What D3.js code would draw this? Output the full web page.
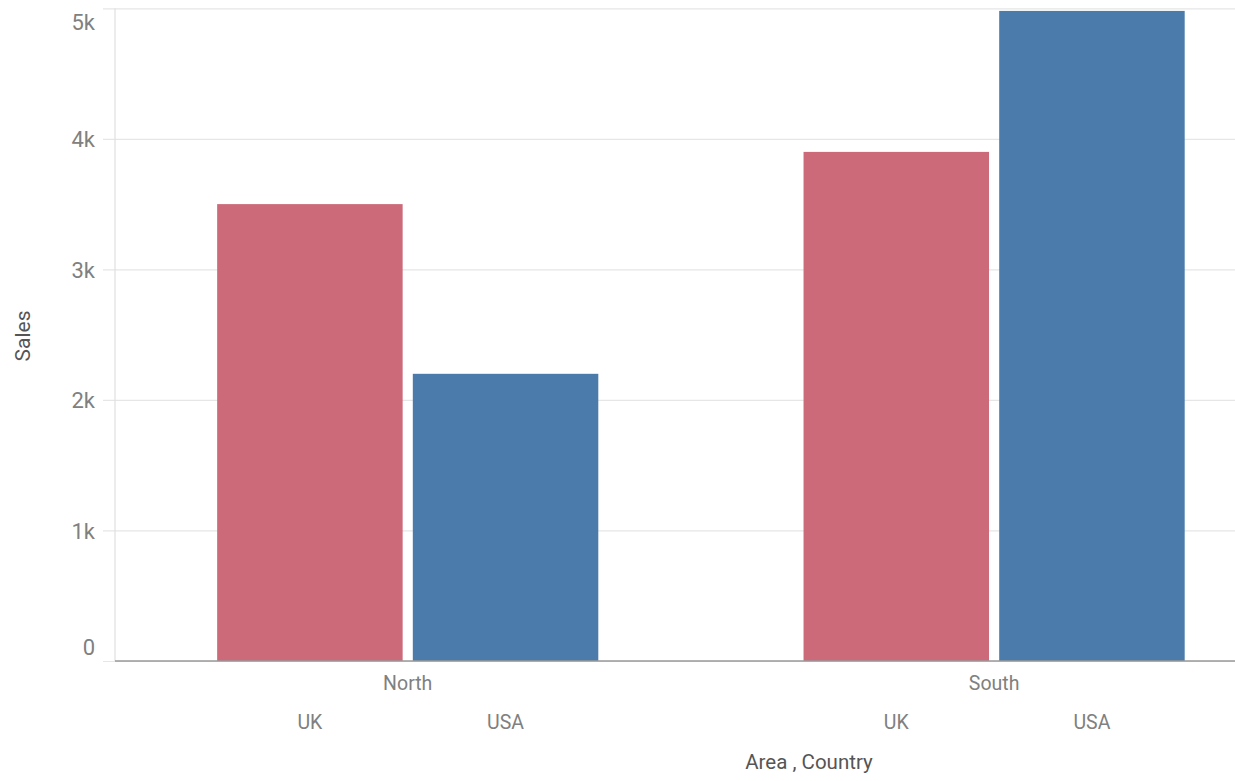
<!DOCTYPE html>
<html>
<head>
<meta charset="utf-8">
<script src="https://cdn.jsdelivr.net/npm/d3@7"></script>
<style>
  body { margin: 0; background: #fff; }
  svg { display: block; font-family: Roboto, "Noto Sans", sans-serif; }
</style>
</head>
<body>
<script>
// chart data
const areas = ['North', 'South'];
const countries = ['UK', 'USA'];
const ukSales = [3500, 3900];
const usaSales = [2200, 4980];
const yTicks = [0, 1000, 2000, 3000, 4000, 5000];
const yTickLabels = ['0', '1k', '2k', '3k', '4k', '5k'];
const countryColors = ['#cd6a7a', '#4a7bab'];

const w = 1235, h = 781;
const plotLeft = 115, plotRight = 1235, plotTop = 8.3, plotBottom = 661;

let svg = d3.select(document.body).append('svg')
  .attr('width', w)
  .attr('height', h);

let y = d3.scaleLinear().domain([0, 5000]).range([plotBottom, plotTop]);

let x0 = d3.scaleBand()
  .domain(areas)
  .range([plotLeft, plotRight])
  .paddingInner(0.35)
  .paddingOuter(0.13)
  .align(0.67);

let x1 = d3.scaleBand()
  .domain(countries)
  .range([0, x0.bandwidth()])
  .paddingInner(0.052)
  .paddingOuter(0);

let color = d3.scaleOrdinal().domain(countries).range(countryColors);

// gridlines + y tick labels
let yAxis = svg.append('g')
  .attr('transform', `translate(${plotLeft},0)`)
  .call(d3.axisLeft(y)
    .tickValues(yTicks)
    .tickFormat((d, i) => yTickLabels[i])
    .tickSizeInner(-(plotRight - plotLeft))
    .tickSizeOuter(0));
yAxis.select('.domain').remove();
yAxis.selectAll('.tick line')
  .attr('x1', -12)
  .attr('stroke', '#e6e6e6')
  .attr('stroke-width', 1.2);
yAxis.selectAll('.tick text')
  .attr('x', -20)
  .attr('dy', (d, i) => i === 0 ? '-0.3em' : (i === yTicks.length - 1 ? '0.95em' : '0.35em'))
  .attr('fill', '#808080')
  .style('font-size', '22px')
  .style('font-family', 'Roboto, sans-serif');

// y axis line
svg.append('line')
  .attr('x1', plotLeft).attr('x2', plotLeft)
  .attr('y1', plotTop).attr('y2', plotBottom)
  .attr('stroke', '#e0e0e0')
  .attr('stroke-width', 1.2);

// bars
let rows = areas.map((a, i) => ({ area: a, values: [ukSales[i], usaSales[i]] }));

let group = svg.selectAll('.area')
  .data(rows)
  .enter().append('g')
  .attr('class', 'area')
  .attr('transform', d => `translate(${x0(d.area)},0)`);

group.selectAll('rect')
  .data(d => countries.map((c, j) => ({ country: c, value: d.values[j] })))
  .enter().append('rect')
  .attr('x', d => x1(d.country))
  .attr('y', d => y(d.value))
  .attr('width', x1.bandwidth())
  .attr('height', d => y(0) - y(d.value))
  .attr('fill', d => color(d.country));

// x axis line
svg.append('line')
  .attr('x1', plotLeft).attr('x2', plotRight)
  .attr('y1', plotBottom).attr('y2', plotBottom)
  .attr('stroke', '#999')
  .attr('stroke-width', 1.5);

// area labels
svg.selectAll('.area-label')
  .data(areas)
  .enter().append('text')
  .attr('class', 'area-label')
  .attr('x', d => x0(d) + x0.bandwidth() / 2)
  .attr('y', 690)
  .attr('text-anchor', 'middle')
  .attr('fill', '#808080')
  .style('font-size', '19.5px')
  .text(d => d);

// country labels
let pairs = [];
areas.forEach(a => countries.forEach(c => pairs.push({ area: a, country: c })));
svg.selectAll('.country-label')
  .data(pairs)
  .enter().append('text')
  .attr('class', 'country-label')
  .attr('x', d => x0(d.area) + x1(d.country) + x1.bandwidth() / 2)
  .attr('y', 729)
  .attr('text-anchor', 'middle')
  .attr('fill', '#808080')
  .style('font-size', '19.5px')
  .text(d => d.country);

// axis titles
svg.append('text')
  .attr('x', 809)
  .attr('y', 769)
  .attr('text-anchor', 'middle')
  .attr('fill', '#555')
  .style('font-size', '20.5px')
  .text('Area , Country');

svg.append('text')
  .attr('transform', 'translate(30,336) rotate(-90)')
  .attr('text-anchor', 'middle')
  .attr('fill', '#555')
  .style('font-size', '21px')
  .text('Sales');
</script>
</body>
</html>
